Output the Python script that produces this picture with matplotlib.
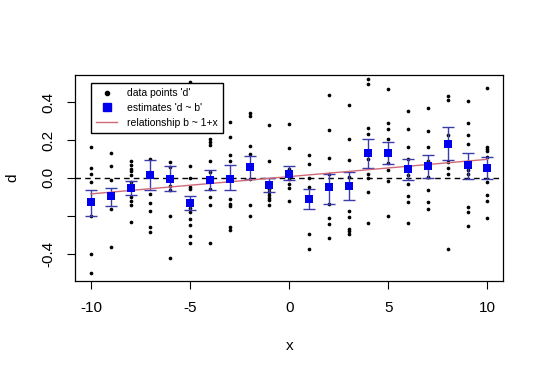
import numpy as np
import matplotlib
matplotlib.use("Agg")
import matplotlib.pyplot as plt
from matplotlib.lines import Line2D

plt.rcParams["font.family"] = ["Liberation Sans", "DejaVu Sans"]
plt.rcParams["axes.unicode_minus"] = False

# group positions on the x axis
x_groups = list(range(-10, 11))

# raw data points 'd' per group
d_points = [
    [0.165, 0.054, 0.023, -0.021, -0.20, -0.40, -0.50, -0.13],
    [0.133, 0.061, -0.012, -0.09, -0.165, -0.363],
    [0.088, 0.067, 0.049, 0.037, 0.014, -0.021, -0.10, -0.12, -0.14, -0.23],
    [0.10, 0.03, -0.086, -0.13, -0.175, -0.26, -0.284],
    [0.086, 0.06, -0.04, -0.065, -0.2, -0.42],
    [0.505, 0.063, 0.0, -0.047, -0.06, -0.16, -0.179, -0.214, -0.249, -0.307, -0.34],
    [0.207, 0.19, 0.175, 0.088, 0.032, -0.056, -0.1, -0.144, -0.34],
    [0.295, 0.216, 0.119, 0.088, -0.109, -0.135, -0.147, -0.258, -0.275],
    [0.344, 0.326, 0.168, 0.128, -0.004, -0.144, -0.2],
    [0.277, 0.088, -0.056, -0.074, -0.091, -0.105, -0.118, -0.144],
    [0.286, 0.158, 0.049, -0.004, -0.03, -0.053, -0.123],
    [0.123, 0.075, 0.0, -0.047, -0.293, -0.372],
    [0.435, 0.251, 0.105, 0.023, -0.135, -0.209, -0.244, -0.316],
    [0.386, 0.207, 0.093, 0.005, -0.175, -0.205, -0.267, -0.281, -0.295],
    [0.519, 0.493, 0.265, 0.23, 0.098, 0.023, 0.0, -0.074, -0.235],
    [0.467, 0.291, 0.256, 0.207, 0.081, 0.04, -0.017, -0.2],
    [0.353, 0.256, 0.163, 0.098, 0.014, -0.03, -0.095, -0.126, -0.235],
    [0.37, 0.246, 0.161, 0.088, 0.004, -0.065, -0.126, -0.161],
    [0.432, 0.409, 0.225, 0.084, 0.054, 0.023, -0.372],
    [0.404, 0.291, 0.225, 0.181, 0.084, 0.04, 0.023, -0.153, -0.179, -0.253],
    [0.474, 0.163, 0.151, 0.14, 0.111, -0.021, -0.088, -0.123, -0.211],
]

# estimates 'd ~ b' with interval bounds
estimates = [-0.126, -0.096, -0.051, 0.017, -0.007, -0.13, -0.009, -0.003, 0.058, -0.039,
             0.023, -0.109, -0.047, -0.044, 0.132, 0.132, 0.046, 0.061, 0.181, 0.067, 0.053]
lower = [-0.2, -0.149, -0.091, -0.065, -0.068, -0.17, -0.065, -0.065, -0.007, -0.074,
         -0.012, -0.161, -0.135, -0.114, 0.054, 0.072, -0.012, 0.002, 0.093, -0.004, -0.007]
upper = [-0.065, -0.053, -0.014, 0.093, 0.063, -0.095, 0.04, 0.067, 0.114, 0.0,
         0.061, -0.06, 0.023, 0.032, 0.207, 0.19, 0.102, 0.119, 0.268, 0.133, 0.111]

# relationship b ~ 1 + x
intercept = 0.007
slope = 0.0091

xs = np.concatenate([[x] * len(p) for x, p in zip(x_groups, d_points)])
ds = np.concatenate(d_points)
est = np.array(estimates)
yerr = np.vstack([est - np.array(lower), np.array(upper) - est])

fig = plt.figure(figsize=(5.4, 3.75), dpi=100)
ax = fig.add_axes([0.139, 0.251, 0.793, 0.549])

ax.scatter(xs, ds, s=7, color="black", zorder=3, linewidths=0)
ax.axhline(0, color="black", linestyle=(0, (4, 3)), linewidth=1.0, zorder=2)
ax.errorbar(x_groups, est, yerr=yerr, fmt="none", ecolor="#3b3bab",
            elinewidth=1.0, capsize=4, capthick=1.0, zorder=4)
ax.scatter(x_groups, est, s=36, marker="s", color="#0000ee", zorder=5, linewidths=0)
line_x = np.array([x_groups[0], x_groups[-1]])
ax.plot(line_x, intercept + slope * line_x, color="#d06a78", linewidth=1.0, zorder=4)

ax.set_xlim(-10.8, 10.8)
ax.set_ylim(-0.542, 0.542)
ax.set_xticks([-10, -5, 0, 5, 10])
ax.set_yticks([-0.4, -0.2, 0.0, 0.2, 0.4])
ax.set_yticklabels(["-0.4", "", "0.0", "0.2", "0.4"], rotation=90, va="center")
ax.tick_params(direction="out", length=5.5, width=0.8, labelsize=11, pad=9)
for sp in ax.spines.values():
    sp.set_linewidth(0.9)
ax.set_xlabel("x", fontsize=11)
ax.set_ylabel("d", fontsize=11)
ax.xaxis.set_label_coords(0.5, -0.316)
ax.yaxis.set_label_coords(-0.147, 0.5)
ax.xaxis.label.set_va("center")
ax.yaxis.label.set_va("center")

handles = [
    Line2D([], [], marker="o", color="black", linestyle="none", markersize=3),
    Line2D([], [], marker="s", color="#0000ee", linestyle="none", markersize=6),
    Line2D([], [], color="#d06a78", linewidth=1.0),
]
ax.legend(handles, ["data points 'd'", "estimates 'd ~ b'", "relationship b ~ 1+x"],
          loc="upper left", bbox_to_anchor=(0.037, 0.961), borderaxespad=0,
          fancybox=False, edgecolor="black", framealpha=1, fontsize=7.5,
          handlelength=2.0, labelspacing=0.45, borderpad=0.5, handletextpad=1.0)
leg = ax.get_legend()
leg._legend_box.sep = 0

fig.savefig("out.png", dpi=100)
